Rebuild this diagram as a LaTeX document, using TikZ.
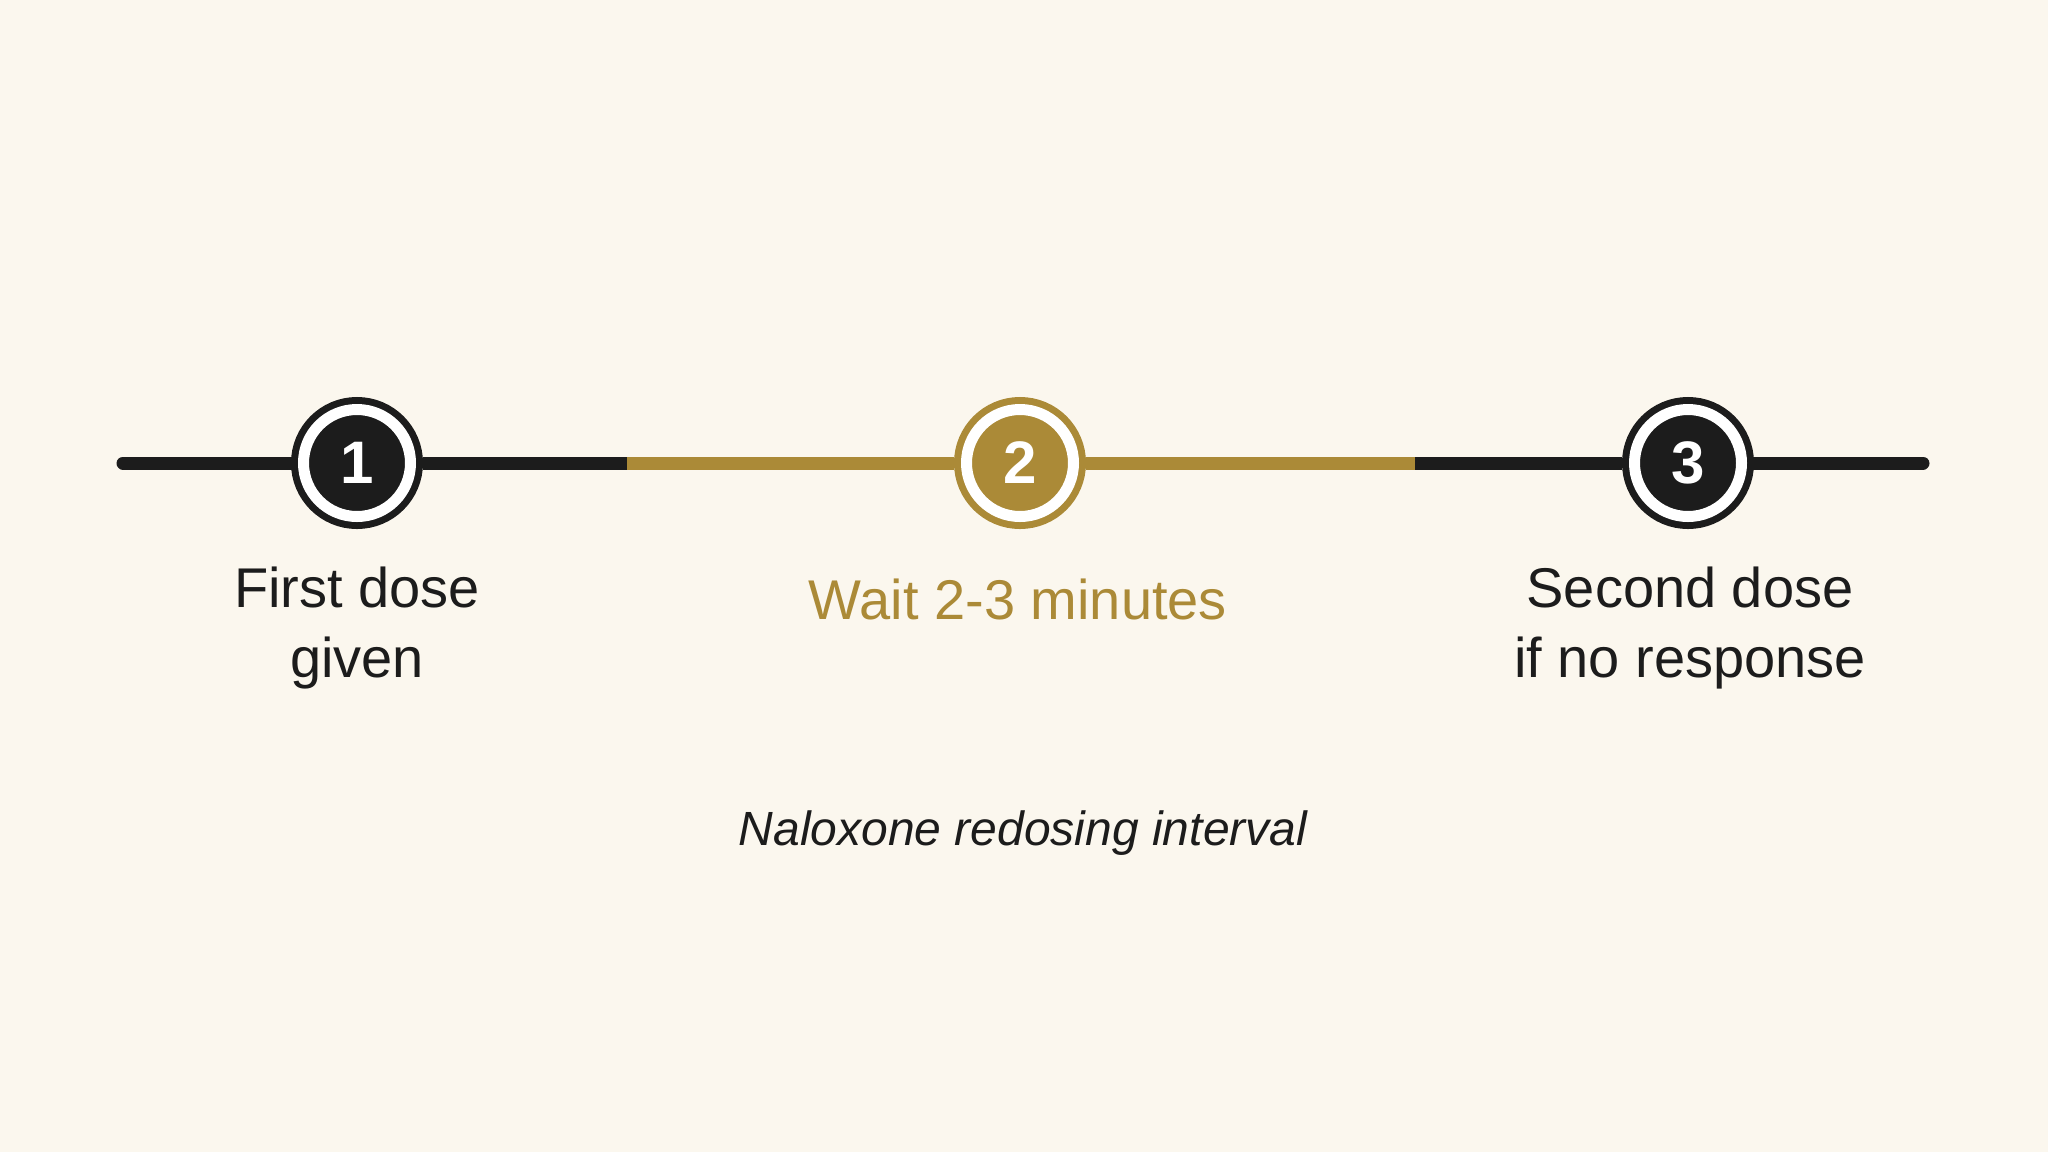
\documentclass[tikz,border=0pt]{standalone}
\usepackage{fontspec}
\setmainfont{Liberation Sans}
\definecolor{ink}{HTML}{1C1C1C}
\definecolor{gold}{HTML}{AB8A37}
\definecolor{paper}{HTML}{FBF7EE}
\begin{document}
\begin{tikzpicture}[x=1pt, y=-1pt,
		stepmark/.style={circle, fill=#1, draw=#1, double=white, line width=7pt, double distance=11pt, minimum size=107pt, inner sep=0pt, outer sep=12.5pt, text=white, font=\fontsize{60}{60}\selectfont\bfseries},
		label/.style={align=center, inner sep=0pt, text=#1, font=\fontsize{56}{70}\selectfont},
		track/.style={line width=13pt, draw=#1}]
		\fill[paper] (0,0) rectangle (2048,1152);
		\useasboundingbox (0,0) rectangle (2048,1152);

		\coordinate (start) at (123,463);
		\coordinate (goldA) at (627,463);
		\coordinate (goldB) at (1415,463);
		\coordinate (finish) at (1923,463);

		\node[stepmark=ink] at (357,463) (first) {1};
		\node[stepmark=gold] at (1020,463) (wait) {2};
		\node[stepmark=ink] at (1688,463) (second) {3};

		\draw[track=ink, line cap=round] (start) -- (first.west);
		\draw[track=ink] (first.east) -- (goldA);
		\draw[track=gold] (goldA) -- (wait.west);
		\draw[track=gold] (wait.east) -- (goldB);
		\draw[track=ink] (goldB) -- (second.west);
		\draw[track=ink, line cap=round] (second.east) -- (finish);

		\node[label=ink, anchor=north] at (357,567) (firstlabel) {First dose\\given};
		\node[label=gold, anchor=base] at (1018,619) (waitlabel) {Wait 2-3 minutes};
		\node[label=ink, anchor=north] at (1690,567) (secondlabel) {Second dose\\if no response};

		\node[anchor=base, text=ink, font=\fontsize{48}{60}\selectfont\itshape] at (1023,845) (caption) {Naloxone redosing interval};
	\end{tikzpicture}
\end{document}
